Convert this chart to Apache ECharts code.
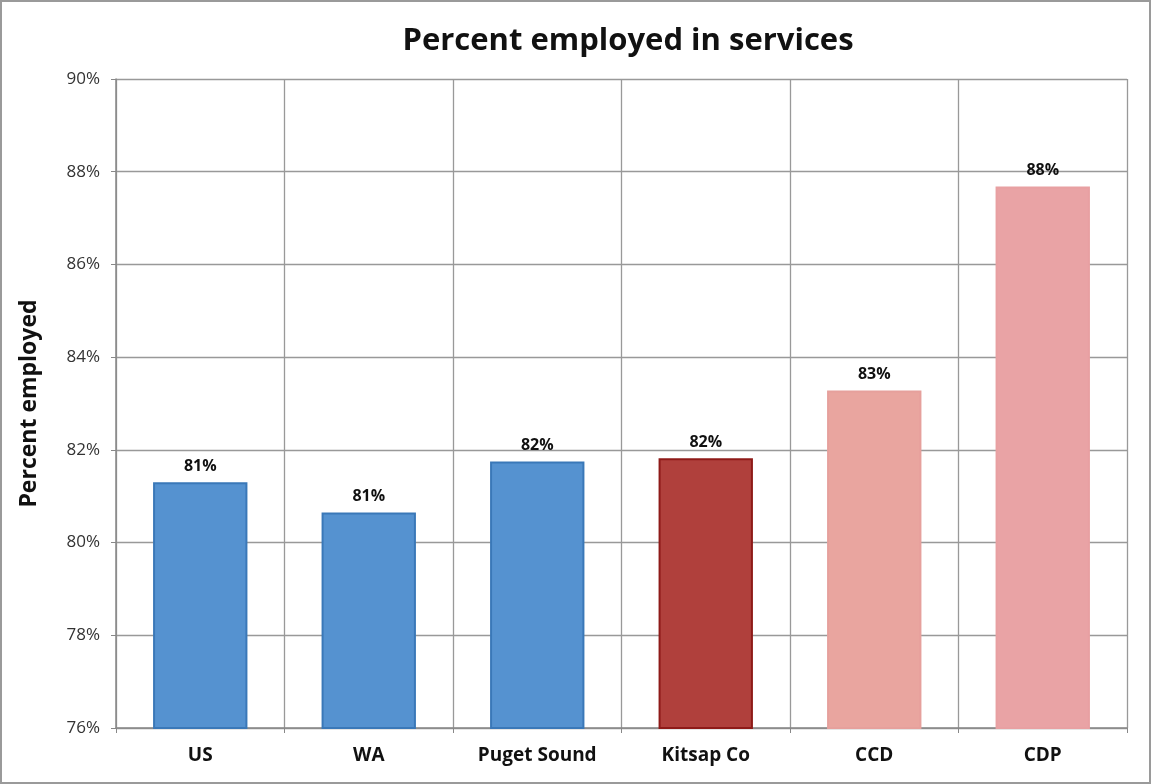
<!DOCTYPE html>
<html>
<head>
<meta charset="utf-8">
<script src="https://cdn.jsdelivr.net/npm/echarts@6/dist/echarts.min.js"></script>
<style>
  html, body { margin: 0; padding: 0; background: #fff; }
  #chart { width: 1151px; height: 784px; box-sizing: border-box; border: 2px solid #9a9a9a; }
</style>
</head>
<body>
<div id="chart"></div>
<script>
// data
const categories = ['US', 'WA', 'Puget Sound', 'Kitsap Co', 'CCD', 'CDP'];
const values = [81.3, 80.65, 81.75, 81.82, 83.28, 87.68];
const barColors = ['#5592d0', '#5592d0', '#5592d0', '#b0403c', '#e9a59f', '#e9a3a5'];
const borderColors = ['#3a78b8', '#3a78b8', '#3a78b8', '#8e1a18', '#e6a09c', '#e8a0a2'];

const chart = echarts.init(document.getElementById('chart'));

chart.setOption({
    animation: false,
    title: {
        text: 'Percent employed in services',
        left: 621,
        textAlign: 'center',
        top: 19,
        textStyle: { fontFamily: 'Open Sans', fontSize: 31, fontWeight: 'bold', color: '#111' }
    },
    grid: { left: 114, right: 22, top: 77, bottom: 54 },
    xAxis: {
        type: 'category',
        data: categories,
        axisLine: { lineStyle: { color: '#888', width: 1.5 } },
        axisTick: { show: true, alignWithLabel: false, length: 5, lineStyle: { color: '#888' } },
        splitLine: { show: true, lineStyle: { color: '#999', width: 1.3 } },
        axisLabel: { fontFamily: 'Open Sans', fontSize: 19, fontWeight: 'bold', color: '#111', margin: 18 }
    },
    yAxis: {
        type: 'value',
        min: 76,
        max: 90,
        interval: 2,
        name: 'Percent employed',
        nameLocation: 'middle',
        nameGap: 75,
        nameTextStyle: { fontFamily: 'Open Sans', fontSize: 23, fontWeight: 'bold', color: '#111' },
        axisLine: { show: true, lineStyle: { color: '#888', width: 1.5 } },
        axisTick: { show: true, length: 5, lineStyle: { color: '#888' } },
        splitLine: { lineStyle: { color: '#999', width: 1.3 } },
        axisLabel: { fontFamily: 'Open Sans', fontSize: 17, color: '#333', margin: 16, formatter: '{value}%' }
    },
    series: [{
        type: 'bar',
        barWidth: '56%',
        data: values.map((v, i) => ({
            value: v,
            itemStyle: { color: barColors[i], borderColor: borderColors[i], borderWidth: 2 }
        })),
        label: {
            show: true,
            position: 'top',
            distance: 8,
            fontFamily: 'Open Sans',
            fontSize: 16,
            fontWeight: 'bold',
            color: '#111',
            formatter: p => Math.round(p.value) + '%'
        }
    }]
});
</script>
</body>
</html>
